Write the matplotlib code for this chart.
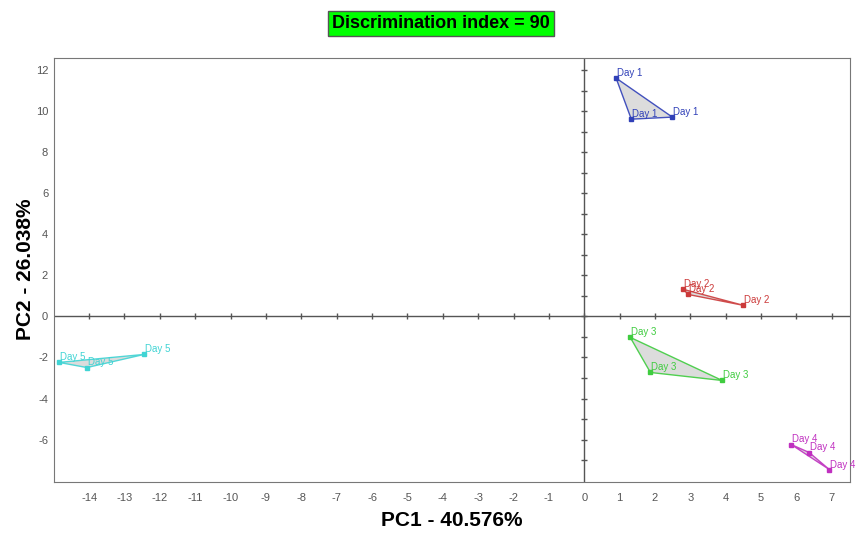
import matplotlib.pyplot as plt
from matplotlib.patches import Polygon

plt.rcParams['font.family'] = ['Liberation Sans', 'DejaVu Sans']
plt.rcParams['axes.unicode_minus'] = False

# 各组样本的PC1/PC2得分
groups = ['Day 1', 'Day 2', 'Day 3', 'Day 4', 'Day 5']
pc1 = [
    [0.90, 1.33, 2.49],
    [2.80, 2.94, 4.50],
    [1.30, 1.87, 3.90],
    [5.85, 6.36, 6.93],
    [-14.85, -14.06, -12.44],
]
pc2 = [
    [11.61, 9.61, 9.71],
    [1.32, 1.07, 0.54],
    [-1.02, -2.73, -3.12],
    [-6.24, -6.63, -7.46],
    [-2.24, -2.49, -1.85],
]
colors = ['#3040b8', '#cc3a3a', '#3fcc3f', '#c030c0', '#40d4d4']

x_ticks = list(range(-14, 8))
y_ticks = list(range(-6, 13, 2))

fig = plt.figure(figsize=(8.66, 5.4), dpi=100)
ax = fig.add_axes([0.062, 0.108, 0.919, 0.785])

# 画每组的凸包和点
for name, xs, ys, c in zip(groups, pc1, pc2, colors):
    pts = list(zip(xs, ys))
    ax.add_patch(Polygon(pts, closed=True, facecolor='#d9d9d9', edgecolor=c,
                         lw=1.0, alpha=0.9, zorder=2))
    ax.plot(xs, ys, 's', color=c, ms=3, zorder=3)
    for x, y in pts:
        ax.text(x + 0.03, y + 0.1, name, color=c, fontsize=7, zorder=4)

# 原点处的十字轴线及刻度
ax.axhline(0, color='#555555', lw=1, zorder=1)
ax.axvline(0, color='#555555', lw=1, zorder=1)
ax.plot(x_ticks, [0] * len(x_ticks), '|', color='#555555', ms=5, zorder=1)
ax.plot([0] * 20, [i for i in range(-7, 13)], '_', color='#555555', ms=5, zorder=1)

ax.set_xlim(-15.0, 7.5)
ax.set_ylim(-8.05, 12.6)
ax.set_xticks(x_ticks)
ax.set_yticks(y_ticks)
ax.tick_params(length=0, labelsize=8, labelcolor='#555555')
ax.tick_params(axis='x', pad=8)
ax.tick_params(axis='y', pad=4)
for s in ax.spines.values():
    s.set_color('#777777')

ax.set_xlabel('PC1 - 40.576%', fontsize=15, fontweight='bold', labelpad=6)
ax.set_ylabel('PC2 - 26.038%', fontsize=15, fontweight='bold')
ax.yaxis.set_label_coords(-0.024, 0.5)

fig.text(0.509, 0.956, 'Discrimination index = 90', ha='center', va='center',
         fontsize=13, fontweight='bold',
         bbox=dict(facecolor='#00ff00', edgecolor='#555555', pad=3))

fig.savefig('out.png', dpi=100)
